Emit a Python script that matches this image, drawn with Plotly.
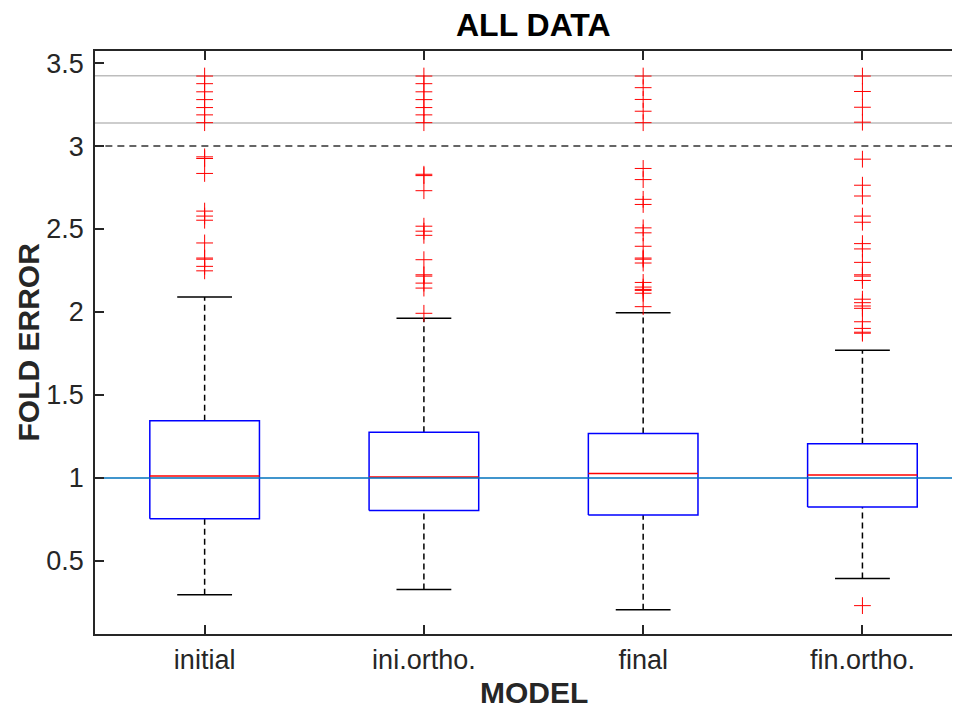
import plotly.graph_objects as go

categories = ["initial", "ini.ortho.", "final", "fin.ortho."]
q1 = [0.753, 0.804, 0.776, 0.824]
median = [1.012, 1.006, 1.026, 1.018]
q3 = [1.344, 1.275, 1.267, 1.206]
lower_whisker = [0.295, 0.327, 0.205, 0.394]
upper_whisker = [2.091, 1.962, 1.996, 1.770]

outliers = [
    [3.422, 3.376, 3.327, 3.280, 3.232, 3.188, 3.141,
     2.935, 2.925, 2.835, 2.608, 2.578, 2.553, 2.416, 2.325, 2.318, 2.275, 2.248],
    [3.422, 3.376, 3.327, 3.280, 3.232, 3.188, 3.141,
     2.830, 2.822, 2.731, 2.517, 2.487, 2.462, 2.315, 2.224, 2.216, 2.174, 2.144, 1.992],
    [3.422, 3.352, 3.281, 3.210, 3.141,
     2.865, 2.798, 2.679, 2.648, 2.507, 2.477, 2.396, 2.325, 2.318, 2.295, 2.178,
     2.150, 2.136, 2.130, 2.113, 2.032],
    [3.422, 3.329, 3.234, 3.144,
     2.921, 2.764, 2.699, 2.578, 2.541, 2.412, 2.380, 2.299, 2.224, 2.216, 2.190,
     2.077, 2.056, 2.036, 2.022, 1.941, 1.901, 1.878, 1.872, 0.230],
]

compress_limits = [3.139, 3.424]
threshold = 3.0
reference = 1.0
y_ticks = [0.5, 1, 1.5, 2, 2.5, 3, 3.5]
y_ticktext = ["0.5", "1", "1.5", "2", "2.5", "3", "3.5"]

BOX_HALF = 0.25
CAP_HALF = 0.125
positions = [i + 1 for i in range(len(categories))]

fig = go.Figure()

for lim in compress_limits:
    fig.add_trace(go.Scatter(x=[0, 5], y=[lim, lim], mode="lines",
                             line=dict(color="#bdbdbd", width=1.5), hoverinfo="skip"))
fig.add_trace(go.Scatter(x=[0, 5], y=[threshold, threshold], mode="lines",
                         line=dict(color="#333333", width=1.5, dash="7px,5px"), hoverinfo="skip"))

wx, wy = [], []
for p, a, b, c, d in zip(positions, lower_whisker, q1, q3, upper_whisker):
    wx += [p, p, None, p, p, None]
    wy += [a, b, None, c, d, None]
fig.add_trace(go.Scatter(x=wx, y=wy, mode="lines",
                         line=dict(color="black", width=1.5, dash="6px,4px"), hoverinfo="skip"))

cx, cy = [], []
for p, a, d in zip(positions, lower_whisker, upper_whisker):
    cx += [p - CAP_HALF, p + CAP_HALF, None, p - CAP_HALF, p + CAP_HALF, None]
    cy += [a, a, None, d, d, None]
fig.add_trace(go.Scatter(x=cx, y=cy, mode="lines",
                         line=dict(color="black", width=1.5), hoverinfo="skip"))

bx, by = [], []
for p, b, c in zip(positions, q1, q3):
    bx += [p - BOX_HALF, p + BOX_HALF, p + BOX_HALF, p - BOX_HALF, p - BOX_HALF, None]
    by += [b, b, c, c, b, None]
fig.add_trace(go.Scatter(x=bx, y=by, mode="lines",
                         line=dict(color="#0000ff", width=1.5), hoverinfo="skip"))

mx, my = [], []
for p, m in zip(positions, median):
    mx += [p - BOX_HALF, p + BOX_HALF, None]
    my += [m, m, None]
fig.add_trace(go.Scatter(x=mx, y=my, mode="lines",
                         line=dict(color="#ff0000", width=1.5), hoverinfo="skip"))

ox, oy = [], []
for p, vals in zip(positions, outliers):
    ox += [p] * len(vals)
    oy += vals
fig.add_trace(go.Scatter(x=ox, y=oy, mode="markers",
                         marker=dict(symbol="cross-thin", size=12,
                                     line=dict(color="#ff0000", width=1)),
                         hoverinfo="skip"))

fig.add_trace(go.Scatter(x=[0, 5], y=[reference, reference], mode="lines",
                         line=dict(color="#0072BD", width=1.5), hoverinfo="skip"))

axis_color = "#262626"
font_family = "Liberation Sans, Arial, Helvetica, sans-serif"

# page body has an 8px margin; figure sized so the plot lands where the reference has it
W, H = 952, 700
ML, MT, MB = 87, 43, 74
plot_h = H - MT - MB
plot_w = W - ML

fig.update_layout(
    width=W, height=H,
    margin=dict(l=ML, r=0, t=MT, b=MB, pad=0),
    paper_bgcolor="white", plot_bgcolor="white",
    showlegend=False,
    font=dict(family=font_family, size=27, color=axis_color),
    xaxis=dict(
        range=[0.5, 4.445], tickvals=positions, ticktext=categories,
        ticks="inside", ticklen=9, tickwidth=1.5, tickcolor=axis_color,
        showline=True, linecolor=axis_color, linewidth=1.5, mirror="ticks",
        showgrid=False, zeroline=False, ticklabelstandoff=1,
        tickfont=dict(size=27, color=axis_color),
    ),
    yaxis=dict(
        range=[0.059, 3.573], tickvals=y_ticks, ticktext=y_ticktext,
        ticks="inside", ticklen=9, tickwidth=1.5, tickcolor=axis_color,
        showline=True, linecolor=axis_color, linewidth=1.5,
        showgrid=False, zeroline=False, ticklabelstandoff=4,
        tickfont=dict(size=27, color=axis_color),
    ),
)

fig.add_annotation(text="<b>ALL DATA</b>", xref="paper", yref="paper",
                   x=(533 - 95) / plot_w, y=1 + (51 - 25) / plot_h, showarrow=False,
                   font=dict(size=32, color="black"), xanchor="center", yanchor="middle")
fig.add_annotation(text="<b>MODEL</b>", xref="paper", yref="paper",
                   x=(534 - 95) / plot_w, y=-(692 - 634) / plot_h, showarrow=False,
                   font=dict(size=30, color=axis_color), xanchor="center", yanchor="middle")
fig.add_annotation(text="<b>FOLD ERROR</b>", xref="paper", yref="paper",
                   x=-(95 - 28) / plot_w, y=0.5, showarrow=False, textangle=-90,
                   font=dict(size=30, color=axis_color), xanchor="center", yanchor="middle")

fig.write_html("out.html")
